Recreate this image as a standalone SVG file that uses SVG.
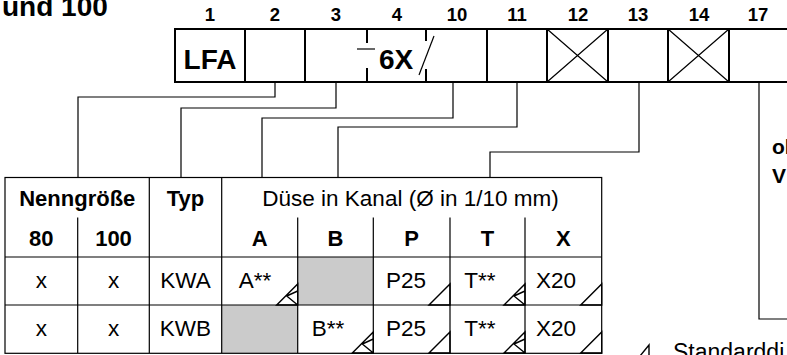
<svg xmlns="http://www.w3.org/2000/svg" width="787" height="355" viewBox="0 0 787 355">
<style>
text{font-family:"Liberation Sans",Arial,Helvetica,sans-serif;fill:#000}
.b{font-weight:bold}
.box{fill:none;stroke:#000;stroke-width:2}
.xs{fill:none;stroke:#000;stroke-width:1.2}
.conn{fill:none;stroke:#000;stroke-width:1.2}
.grid{fill:none;stroke:#000;stroke-width:1.2}
.mk{fill:none;stroke:#000;stroke-width:1.4;stroke-linejoin:miter}
.lbl{font-size:18.5px;font-weight:bold;text-anchor:middle}
.code{font-size:28px;font-weight:bold;text-anchor:middle}
.h{font-size:22px;font-weight:bold;text-anchor:middle}
.d{font-size:22.5px;text-anchor:middle}
.grey{fill:#cbcbcb}
</style>
<rect width="787" height="355" fill="#fff"/>

<g id="title">
<text x="2" y="16" class="b" font-size="28">und 100</text>
</g>

<g id="code">
<path class="box" d="M787,29H175V82H787M245,29V82M305,29V82M487,29V82M547,29V82M608,29V82M668,29V82M729,29V82"/>
<path class="box" d="M367,29V43M367,68V82M426,29V41M426,69V82"/>
<path class="xs" d="M547,29L608,82M608,29L547,82M668,29L729,82M729,29L668,82"/>
<text class="lbl" x="210" y="21">1</text>
<text class="lbl" x="275" y="21">2</text>
<text class="lbl" x="336" y="21">3</text>
<text class="lbl" x="397" y="21">4</text>
<text class="lbl" x="457" y="21">10</text>
<text class="lbl" x="517" y="21">11</text>
<text class="lbl" x="578" y="21">12</text>
<text class="lbl" x="638" y="21">13</text>
<text class="lbl" x="699" y="21">14</text>
<text class="lbl" x="758" y="21">17</text>
<text class="code" x="210" y="69">LFA</text>
<path class="xs" d="M357,49H375" stroke-width="1.6"/>
<text class="code" x="396" y="69">6X</text>
<path class="xs" d="M434,36L419,75" stroke-width="1.6"/>
</g>

<g id="connectors">
<path class="conn" d="M275,82V97H78V177"/>
<path class="conn" d="M336,82V108H181V177"/>
<path class="conn" d="M453,82V118H262V177"/>
<path class="conn" d="M517,82V127H338V177"/>
<path class="conn" d="M639,82V152H490V177"/>
<path class="conn" d="M759,82V319H787"/>
</g>

<g id="table">
<rect class="grey" x="297.7" y="257" width="75.6" height="48"/>
<rect class="grey" x="221.7" y="305" width="76" height="48"/>
<rect class="grid" x="5" y="177.5" width="596.7" height="175.8" stroke-width="1.6"/>
<path class="grid" d="M5,257H601.7M5,305H601.7M149.3,177.5V353M221.7,177.5V353M77.7,217.5V353M297.7,217.5V353M373.3,217.5V353M450,217.5V353M525,217.5V353"/>
<text class="h" x="77.3" y="206">Nenngröße</text>
<text class="h" x="185.5" y="206">Typ</text>
<text class="d" x="410.5" y="206">Düse in Kanal (Ø in 1/10 mm)</text>
<text class="h" x="41.3" y="246">80</text>
<text class="h" x="113.5" y="246">100</text>
<text class="h" x="259.7" y="246">A</text>
<text class="h" x="335.5" y="246">B</text>
<text class="h" x="411.7" y="246">P</text>
<text class="h" x="487.5" y="246">T</text>
<text class="h" x="563.3" y="246">X</text>

<text class="d" x="41.3" y="288">x</text>
<text class="d" x="113.5" y="288">x</text>
<text class="d" x="185.5" y="288">KWA</text>
<text class="d" x="255" y="288">A**</text>
<text class="d" x="406" y="288">P25</text>
<text class="d" x="480" y="288">T**</text>
<text class="d" x="556" y="288">X20</text>

<text class="d" x="41.3" y="336">x</text>
<text class="d" x="113.5" y="336">x</text>
<text class="d" x="185.5" y="336">KWB</text>
<text class="d" x="328" y="336">B**</text>
<text class="d" x="406" y="336">P25</text>
<text class="d" x="480" y="336">T**</text>
<text class="d" x="556" y="336">X20</text>

<path class="mk" d="M276.7,305L297.7,284V305ZM297.7,291L286.7,296L297.7,305"/>
<path class="mk" d="M429,305L450,284V305Z"/>
<path class="mk" d="M504,305L525,284V305ZM525,291L514,296L525,305"/>
<path class="mk" d="M580.7,305L601.7,284V305Z"/>
<path class="mk" d="M352.3,353L373.3,332V353ZM373.3,339L362.3,344L373.3,353"/>
<path class="mk" d="M429,353L450,332V353Z"/>
<path class="mk" d="M504,353L525,332V353ZM525,339L514,344L525,353"/>
<path class="mk" d="M580.7,353L601.7,332V353Z"/>
</g>

<g id="side">
<text class="b" x="772" y="154" font-size="21">ol</text>
<text class="b" x="772" y="183" font-size="21">V</text>
</g>

<g id="legend">
<path class="mk" d="M640,356L649,345V356Z"/>
<text x="673" y="360" font-size="23">Standarddi</text>
</g>
</svg>
